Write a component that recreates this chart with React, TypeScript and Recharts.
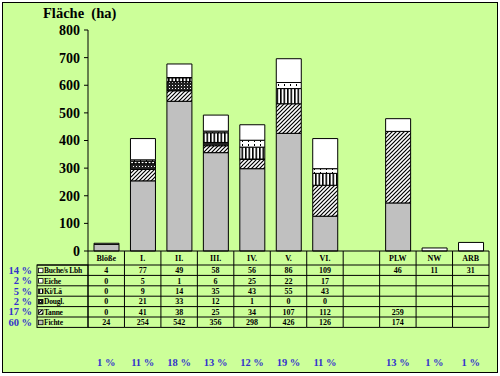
import React from 'react'
import { Bar, BarChart, XAxis, YAxis } from 'recharts'

// categories / values
const categories = ['Blöße', 'I.', 'II.', 'III.', 'IV.', 'V.', 'VI.', '', 'PLW', 'NW', 'ARB']
const fichte = [24, 254, 542, 356, 298, 426, 126, null, 174, null, null]
const tanne = [0, 41, 38, 25, 34, 107, 112, null, 259, null, null]
const dougl = [0, 21, 33, 12, 1, 0, 0, null, null, null, null]
const kiLae = [0, 9, 14, 35, 43, 55, 43, null, null, null, null]
const eiche = [0, 5, 1, 6, 25, 22, 17, null, null, null, null]
const buche = [4, 77, 49, 58, 56, 86, 109, null, 46, 11, 31]
const categoryShare = ['1 %', '11 %', '18 %', '13 %', '12 %', '19 %', '11 %', '', '13 %', '1 %', '1 %']
const yTicks = [0, 100, 200, 300, 400, 500, 600, 700, 800]

// stack order, bottom to top
const SERIES = [
  { key: 'fichte', label: 'Fichte', share: '60 %', values: fichte, fill: '#c0c0c0' },
  { key: 'tanne', label: 'Tanne', share: '17 %', values: tanne, fill: 'url(#pTanne)' },
  { key: 'dougl', label: 'Dougl.', share: '2 %', values: dougl, fill: 'url(#pDougl)' },
  { key: 'kiLae', label: 'Ki/Lä', share: '5 %', values: kiLae, fill: 'url(#pKiLa)' },
  { key: 'eiche', label: 'Eiche', share: '2 %', values: eiche, fill: 'url(#pEiche)' },
  { key: 'buche', label: 'Buche/s Lbh', share: '14 %', values: buche, fill: '#ffffff' },
]
const TABLE_ROWS = [...SERIES].reverse()

const W = 500
const H = 376
const MARGIN = { top: 30, right: 11, left: 0, bottom: 5 }
const Y_AXIS_W = 88
const SLOT = (W - Y_AXIS_W - MARGIN.right) / categories.length
const HEAD_H = 14
const ROW_H = 10.4
const LEGEND_W = 51
const BG = '#ccff99'
const BLUE = '#3333cc'
const SERIF = '"Liberation Serif", "Times New Roman", serif'

const data = categories.map((cat, i) => {
  const row: Record<string, string | number | null> = { cat }
  for (const s of SERIES) row[s.key] = s.values[i]
  return row
})

function TableColumn(props: any) {
  const { x, y, payload } = props
  const i: number = props.index ?? payload?.index ?? 0
  const x0 = x - SLOT / 2
  const bottom = y + HEAD_H + TABLE_ROWS.length * ROW_H
  const txt = { fontFamily: SERIF, fontWeight: 700, fontSize: 8, fill: '#000' }
  return (
    <g>
      <line x1={x0} x2={x0} y1={y} y2={bottom} stroke="#000" />
      {i === categories.length - 1 ? (
        <line x1={x0 + SLOT} x2={x0 + SLOT} y1={y} y2={bottom} stroke="#000" />
      ) : null}
      <text x={x} y={y + HEAD_H / 2 + 3} textAnchor="middle" {...txt}>
        {categories[i]}
      </text>
      {TABLE_ROWS.map((s, r) => {
        const top = y + HEAD_H + r * ROW_H
        const v = s.values[i]
        return (
          <g key={s.key}>
            <line x1={x0} x2={x0 + SLOT} y1={top} y2={top} stroke="#000" />
            <text x={x} y={top + ROW_H / 2 + 3} textAnchor="middle" {...txt}>
              {v == null ? '' : v}
            </text>
          </g>
        )
      })}
      <line x1={x0} x2={x0 + SLOT} y1={bottom} y2={bottom} stroke="#000" />
      <text
        x={x}
        y={y + 115}
        textAnchor="middle"
        fontFamily={SERIF}
        fontWeight={700}
        fontSize={10.5}
        fill={BLUE}
      >
        {categoryShare[i]}
      </text>
      {i === 0 ? (
        <g>
          <rect
            x={x0 - LEGEND_W}
            y={y + HEAD_H}
            width={LEGEND_W}
            height={TABLE_ROWS.length * ROW_H}
            fill="none"
            stroke="#000"
          />
          {TABLE_ROWS.map((s, r) => {
            const top = y + HEAD_H + r * ROW_H
            return (
              <g key={s.key}>
                <line x1={x0 - LEGEND_W} x2={x0} y1={top} y2={top} stroke="#000" />
                <rect
                  x={x0 - LEGEND_W + 1.5}
                  y={top + ROW_H / 2 - 2}
                  width={4.5}
                  height={4.5}
                  fill={s.fill}
                  stroke="#000"
                  strokeWidth={0.8}
                />
                <text
                  x={x0 - LEGEND_W + 7}
                  y={top + ROW_H / 2 + 3}
                  {...txt}
                  fontSize={7.5}
                  letterSpacing={-0.2}
                >
                  {s.label}
                </text>
                <text
                  x={x0 - LEGEND_W - 5}
                  y={top + ROW_H / 2 + 3.5}
                  textAnchor="end"
                  fontFamily={SERIF}
                  fontWeight={700}
                  fontSize={10.5}
                  fill={BLUE}
                >
                  {s.share}
                </text>
              </g>
            )
          })}
        </g>
      ) : null}
    </g>
  )
}

function Patterns() {
  return (
    <svg width={0} height={0} style={{ position: 'absolute' }}>
      <defs>
        <pattern id="pTanne" width={4} height={4} patternUnits="userSpaceOnUse">
          <rect width={4} height={4} fill="#fff" />
          <path d="M-1,1 l2,-2 M0,4 l4,-4 M3,5 l2,-2" stroke="#000" strokeWidth={1.2} />
        </pattern>
        <pattern id="pDougl" width={3} height={3} patternUnits="userSpaceOnUse">
          <rect width={3} height={3} fill="#222" />
          <rect x={1} y={1} width={1} height={1} fill="#fff" />
        </pattern>
        <pattern id="pKiLa" width={3.5} height={4} patternUnits="userSpaceOnUse">
          <rect width={3.5} height={4} fill="#fff" />
          <rect width={1.6} height={4} fill="#000" />
        </pattern>
        <pattern id="pEiche" width={6} height={4} patternUnits="userSpaceOnUse">
          <rect width={6} height={4} fill="#fff" />
          <rect x={2} y={0} width={1} height={2} fill="#000" />
        </pattern>
      </defs>
    </svg>
  )
}

export default function App() {
  return (
    <div style={{ position: 'absolute', left: 0, top: 0, width: W, height: H, background: '#fff' }}>
      <Patterns />
      <div
        style={{
          position: 'absolute',
          left: 2,
          top: 2,
          width: 494,
          height: 369,
          border: '1px solid #000',
          background: BG,
        }}
      />
      <svg width={W} height={40} style={{ position: 'absolute', left: 0, top: 0 }}>
        <text x={43} y={18} fontFamily={SERIF} fontWeight={700} fontSize={14.5} style={{ whiteSpace: 'pre' }}>
          {'Fläche  (ha)'}
        </text>
      </svg>
      <div style={{ position: 'absolute', left: 0, top: 0 }}>
        <BarChart width={W} height={H} data={data} margin={MARGIN} barSize={25}>
          <XAxis
            dataKey="cat"
            interval={0}
            tickLine={false}
            tickSize={0}
            tickMargin={0}
            height={120}
            axisLine={{ stroke: '#000' }}
            tick={(p: any) => <TableColumn {...p} />}
          />
          <XAxis xAxisId="top" dataKey="cat" orientation="top" height={0} tick={false} tickLine={false} axisLine={{ stroke: '#333' }} />
          <YAxis
            width={Y_AXIS_W}
            domain={[0, 800]}
            ticks={yTicks}
            interval={0}
            tickSize={4}
            tickMargin={4}
            axisLine={{ stroke: '#000' }}
            tickLine={{ stroke: '#000' }}
            tick={{ fontFamily: SERIF, fontWeight: 700, fontSize: 14, fill: '#000' }}
          />
          <YAxis yAxisId="right" orientation="right" width={0} domain={[0, 800]} tick={false} tickLine={false} axisLine={{ stroke: '#333' }} />
          {SERIES.map((s) => (
            <Bar
              key={s.key}
              dataKey={s.key}
              stackId="a"
              fill={s.fill}
              stroke="#000"
              strokeWidth={1}
              isAnimationActive={false}
            />
          ))}
        </BarChart>
      </div>
    </div>
  )
}
